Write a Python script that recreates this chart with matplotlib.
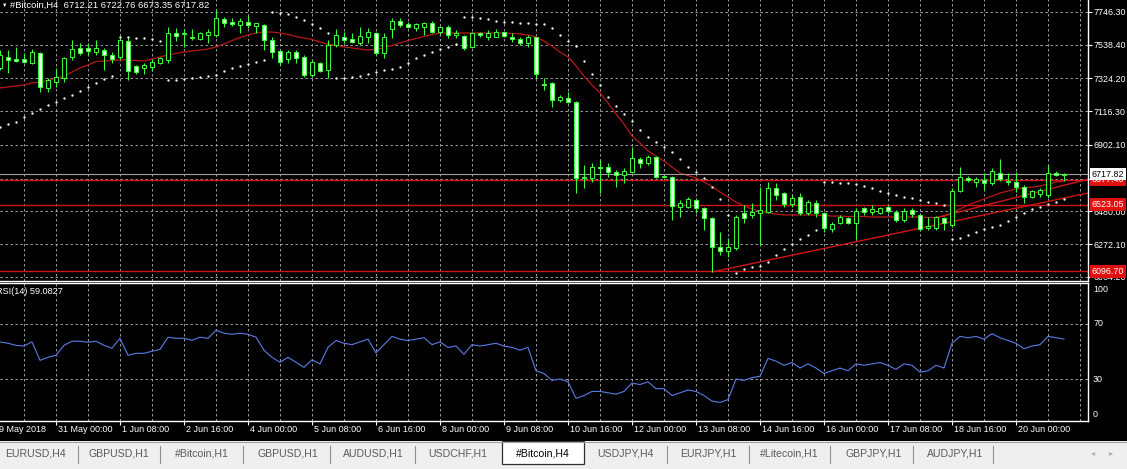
import numpy as np
import matplotlib.pyplot as plt
from matplotlib.patches import Rectangle

# MT4 screenshot: #Bitcoin,H4 with MA, Parabolic SAR, RSI(14)

W, H = 1127, 469

# one entry per H4 bar, first bar at the left edge of the chart
opens = [7391, 7461, 7448, 7448, 7423, 7486, 7264, 7302, 7327, 7461,
         7518, 7518, 7492, 7505, 7473, 7461, 7562, 7403, 7391, 7397,
         7423, 7442, 7613, 7607, 7588, 7575, 7600, 7600, 7702, 7683,
         7664, 7683, 7657, 7664, 7569, 7499, 7448, 7492, 7461, 7346,
         7423, 7378, 7537, 7588, 7575, 7550, 7588, 7613, 7486, 7638,
         7689, 7670, 7645, 7651, 7676, 7619, 7651, 7600, 7594, 7524,
         7613, 7588, 7588, 7619, 7588, 7575, 7550, 7588, 7289, 7296,
         7188, 7200, 7175, 6693, 6693, 6762, 6762, 6731, 6712, 6731,
         6813, 6788, 6826, 6699, 6699, 6509, 6509, 6553, 6502, 6439,
         6255, 6229, 6248, 6471, 6458, 6471, 6477, 6629, 6597, 6528,
         6572, 6471, 6534, 6471, 6369, 6407, 6439, 6407, 6502, 6477,
         6471, 6509, 6477, 6426, 6489, 6458, 6375, 6375, 6439, 6394,
         6610, 6693, 6667, 6680, 6661, 6724, 6673, 6667, 6635, 6572,
         6591, 6585, 6724, 6712.21]
highs = [7505, 7505, 7524, 7486, 7511, 7492, 7327, 7391, 7461, 7569,
         7550, 7550, 7569, 7518, 7492, 7581, 7588, 7410, 7423, 7448,
         7461, 7651, 7645, 7638, 7638, 7619, 7638, 7759, 7715, 7708,
         7708, 7727, 7676, 7670, 7588, 7505, 7505, 7505, 7473, 7442,
         7429, 7569, 7638, 7619, 7613, 7651, 7645, 7619, 7613, 7708,
         7708, 7683, 7676, 7683, 7689, 7657, 7664, 7632, 7600, 7619,
         7619, 7632, 7638, 7619, 7613, 7588, 7600, 7588, 7327, 7302,
         7219, 7238, 7181, 6775, 6788, 6807, 6788, 6743, 6756, 6889,
         6826, 6839, 6833, 6712, 6705, 6553, 6572, 6566, 6509, 6445,
         6350, 6311, 6458, 6521, 6534, 6635, 6667, 6661, 6604, 6585,
         6597, 6553, 6553, 6477, 6413, 6458, 6445, 6502, 6509, 6521,
         6509, 6521, 6489, 6502, 6502, 6471, 6445, 6451, 6445, 6629,
         6762, 6705, 6699, 6724, 6756, 6813, 6724, 6731, 6648, 6616,
         6629, 6775, 6737, 6722.76]
lows = [7378, 7359, 7429, 7423, 7416, 7238, 7238, 7270, 7302, 7442,
        7473, 7473, 7473, 7378, 7423, 7448, 7315, 7353, 7353, 7372,
        7416, 7423, 7562, 7524, 7569, 7569, 7550, 7588, 7651, 7657,
        7613, 7645, 7613, 7505, 7454, 7410, 7423, 7423, 7334, 7334,
        7365, 7327, 7524, 7550, 7550, 7537, 7550, 7473, 7454, 7581,
        7651, 7645, 7626, 7600, 7613, 7607, 7581, 7581, 7505, 7518,
        7588, 7569, 7588, 7588, 7556, 7537, 7524, 7327, 7251, 7143,
        7175, 7169, 6597, 6629, 6667, 6597, 6699, 6635, 6661, 6724,
        6756, 6775, 6693, 6693, 6426, 6445, 6502, 6471, 6362, 6096,
        6204, 6191, 6236, 6407, 6439, 6267, 6471, 6553, 6509, 6509,
        6458, 6458, 6445, 6350, 6350, 6401, 6401, 6305, 6458, 6458,
        6464, 6471, 6413, 6413, 6445, 6356, 6362, 6362, 6362, 6382,
        6604, 6667, 6635, 6616, 6648, 6673, 6648, 6604, 6534, 6566,
        6572, 6566, 6705, 6673.35]
closes = [7473, 7442, 7435, 7429, 7492, 7270, 7315, 7334, 7454, 7511,
          7486, 7499, 7518, 7473, 7448, 7569, 7372, 7365, 7410, 7429,
          7454, 7613, 7594, 7613, 7581, 7613, 7619, 7708, 7676, 7670,
          7689, 7664, 7676, 7569, 7492, 7429, 7492, 7454, 7346, 7429,
          7372, 7537, 7600, 7569, 7556, 7594, 7619, 7486, 7588, 7689,
          7664, 7651, 7670, 7676, 7619, 7651, 7600, 7613, 7518, 7613,
          7600, 7613, 7619, 7594, 7575, 7550, 7588, 7353, 7283, 7188,
          7207, 7175, 6693, 6699, 6762, 6756, 6731, 6712, 6737, 6820,
          6788, 6826, 6699, 6705, 6515, 6534, 6559, 6502, 6439, 6255,
          6229, 6255, 6445, 6439, 6477, 6489, 6629, 6585, 6528, 6566,
          6471, 6540, 6471, 6375, 6401, 6445, 6407, 6483, 6477, 6496,
          6502, 6483, 6426, 6483, 6464, 6369, 6388, 6445, 6407, 6610,
          6699, 6680, 6686, 6661, 6737, 6686, 6667, 6635, 6572, 6610,
          6616, 6724, 6712, 6717.82]

# moving average (red line), read per bar
ma = [7264, 7270, 7277, 7283, 7296, 7302, 7312, 7327, 7340, 7365,
      7391, 7410, 7432, 7435, 7438, 7442, 7442, 7438, 7435, 7448,
      7461, 7473, 7483, 7492, 7499, 7505, 7511, 7524, 7543, 7565,
      7584, 7600, 7613, 7619, 7619, 7613, 7603, 7591, 7581, 7572,
      7556, 7543, 7534, 7524, 7518, 7511, 7505, 7511, 7518, 7534,
      7550, 7565, 7578, 7591, 7603, 7613, 7613, 7613, 7613, 7613,
      7613, 7613, 7613, 7613, 7610, 7607, 7600, 7588, 7562, 7530,
      7492, 7461, 7404, 7340, 7283, 7232, 7169, 7099, 7035, 6959,
      6915, 6864, 6832, 6800, 6762, 6724, 6708, 6693, 6667, 6639,
      6604, 6572, 6540, 6515, 6496, 6483, 6471, 6464, 6458, 6458,
      6458, 6458, 6458, 6454, 6451, 6451, 6448, 6448, 6448, 6445,
      6445, 6445, 6445, 6445, 6445, 6445, 6442, 6442, 6451, 6471,
      6496, 6521, 6540, 6559, 6578, 6597, 6610, 6623, 6629, 6635,
      6642, 6654, 6667, 6673]

# parabolic SAR dots
sar = [7016, 7035, 7048, 7080, 7105, 7131, 7156, 7175, 7200, 7219,
       7245, 7270, 7296, 7321, 7340, 7588, 7588, 7581, 7581, 7575,
       7562, 7315, 7315, 7321, 7327, 7334, 7340, 7346, 7372, 7391,
       7403, 7416, 7429, 7442, 7746, 7740, 7734, 7715, 7696, 7670,
       7645, 7613, 7327, 7327, 7334, 7340, 7353, 7365, 7378, 7384,
       7397, 7423, 7454, 7473, 7492, 7511, 7524, 7543, 7715, 7715,
       7708, 7702, 7689, 7683, 7683, 7676, 7676, 7670, 7670, 7645,
       7600, 7562, 7530, 7435, 7353, 7283, 7207, 7150, 7099, 7054,
       6997, 6953, 6921, 6889, 6858, 6813, 6762, 6731, 6693, 6635,
       6559, 6458, 6090, 6115, 6128, 6134, 6159, 6204, 6242, 6274,
       6305, 6331, 6362, 6667, 6667, 6661, 6661, 6654, 6642, 6629,
       6610, 6597, 6585, 6572, 6566, 6553, 6540, 6534, 6521, 6305,
       6312, 6331, 6350, 6369, 6382, 6394, 6420, 6445, 6471, 6496,
       6509, 6528, 6540, 6559]

rsi = [57.0, 56.0, 54.5, 54.0, 57.0, 43.6, 45.8, 47.3, 54.5, 57.5,
       57.5, 56.7, 57.5, 54.5, 52.4, 59.6, 47.3, 48.7, 48.7, 50.2,
       51.6, 60.4, 59.6, 59.6, 58.2, 60.4, 59.6, 65.5, 63.3, 62.5,
       63.3, 62.5, 60.4, 50.9, 45.8, 42.2, 45.8, 42.2, 38.5, 44.0,
       41.0, 53.0, 58.0, 56.0, 55.0, 57.0, 59.0, 49.0, 55.0, 61.0,
       59.0, 58.0, 59.0, 60.0, 55.0, 57.0, 53.0, 54.0, 48.0, 55.0,
       54.0, 55.0, 56.0, 54.0, 53.0, 51.0, 53.0, 36.0, 34.0, 29.0,
       30.0, 28.0, 16.0, 18.0, 21.0, 21.0, 20.0, 19.0, 21.0, 27.0,
       26.0, 28.0, 23.0, 23.0, 18.0, 20.0, 22.0, 21.0, 18.0, 14.0,
       13.0, 15.0, 30.0, 29.0, 31.0, 32.0, 45.0, 43.0, 40.0, 42.0,
       38.0, 41.0, 38.0, 34.0, 36.0, 38.0, 36.0, 41.0, 40.0, 41.0,
       42.0, 40.0, 37.0, 41.0, 40.0, 35.0, 36.0, 40.0, 38.0, 56.0,
       61.0, 60.0, 61.0, 59.0, 63.0, 60.0, 58.0, 56.0, 52.0, 54.0,
       55.0, 61.0, 60.0, 59.08]

price_ticks = [7746.30, 7538.40, 7324.20, 7116.30, 6902.10, 6688.20,
               6480.00, 6272.10, 6064.20]
time_labels = ['29 May 2018', '31 May 00:00', '1 Jun 08:00', '2 Jun 16:00',
               '4 Jun 00:00', '5 Jun 08:00', '6 Jun 16:00', '8 Jun 00:00',
               '9 Jun 08:00', '10 Jun 16:00', '12 Jun 00:00', '13 Jun 08:00',
               '14 Jun 16:00', '16 Jun 00:00', '17 Jun 08:00', '18 Jun 16:00',
               '20 Jun 00:00']
levels = [6680.00, 6523.05, 6100.00]
level_labels = ['6677.40', '6523.05', '6096.70']
bid = 6717.82
trend_lo = ([89, 136], [6096, 6597])
trend_hi = ([117, 136], [6440, 6685])
tabs = ['EURUSD,H4', 'GBPUSD,H1', '#Bitcoin,H1', 'GBPUSD,H1', 'AUDUSD,H1',
        'USDCHF,H1', '#Bitcoin,H4', 'USDJPY,H4', 'EURJPY,H1', '#Litecoin,H1',
        'GBPJPY,H1', 'AUDJPY,H1']
active_tab = 6

FONT = 'Liberation Sans'
GRID = '#b4b4b4'
LIME = '#3cff3c'
RED = '#d01414'
XMAX = 136


def frac(x0, y0, x1, y1):
    return [x0 / W, 1 - y1 / H, (x1 - x0) / W, (y1 - y0) / H]


def ftext(x, y, s, **kw):
    fig.text(x / W, 1 - y / H, s, family=FONT, **kw)


fig = plt.figure(figsize=(W / 100, H / 100), dpi=100)
fig.patch.set_facecolor('black')

ax = fig.add_axes(frac(0, -1, 1088, 281))
axr = fig.add_axes(frac(0, 283, 1088, 421))

for a in (ax, axr):
    a.set_facecolor('black')
    for s in a.spines.values():
        s.set_color('white')
        s.set_linewidth(1.0)
    a.spines['left'].set_visible(False)
    for j in range(3, XMAX, 4):
        a.axvline(j, color=GRID, lw=0.6, ls=(0, (3, 3)), zorder=0)
ax.spines['top'].set_visible(False)

# ---- main price panel
for p in price_ticks:
    ax.axhline(p, color=GRID, lw=0.6, ls=(0, (3, 3)), zorder=0)

x = np.arange(len(closes))
o = np.array(opens); c = np.array(closes)
ax.vlines(x, lows, highs, color=LIME, lw=0.8, zorder=3)
bottom = np.minimum(o, c)
height = np.maximum(np.abs(c - o), 4)
fill = np.where(c >= o, 'black', '#e4ffe4')
ax.bar(x, height, bottom=bottom, width=0.62, color=fill, edgecolor=LIME,
       linewidth=0.7, zorder=4)

ax.plot(x, ma, color='#b81818', lw=0.9, zorder=2)
ax.plot(x, sar, ls='none', marker='o', ms=1.7, mew=0, color='#eaffea', zorder=5)

for lv in levels:
    ax.axhline(lv, color=RED, lw=1.0, zorder=2)
ax.plot(*trend_lo, color=RED, lw=1.0, zorder=2)
ax.plot(*trend_hi, color=RED, lw=1.0, zorder=2)
ax.axhline(bid, color='#a0a0a0', lw=0.8, zorder=2)

ax.yaxis.tick_right()
ax.set_yticks(price_ticks)
ax.set_yticklabels(['%.2f' % p if p != 6688.20 else '' for p in price_ticks],
                   family=FONT)
ax.tick_params(axis='y', colors='white', labelsize=6.4, length=3, pad=1)
ax.set_xticks([])
ax.set_xlim(0, XMAX)
ax.set_ylim(6038.7, 7828.8)

ytr = ax.get_yaxis_transform()
for lv, lab in zip(levels, level_labels):
    ax.text(1.0035, lv, lab, transform=ytr, ha='left', va='center',
            color='white', fontsize=6.4, family=FONT, clip_on=False,
            bbox=dict(boxstyle='square,pad=0.2', fc='#e01010', ec='none'))
ax.text(1.0035, bid, '%.2f' % bid, transform=ytr, ha='left', va='center',
        color='black', fontsize=6.4, family=FONT, clip_on=False,
        bbox=dict(boxstyle='square,pad=0.2', fc='white', ec='none'))

ftext(2, 5, '\u25bc', color='white', fontsize=4, va='center')
ftext(10, 5, '#Bitcoin,H4  %.2f %.2f %.2f %.2f' % (opens[-1], highs[-1], lows[-1], closes[-1]),
      color='white', fontsize=6.8, va='center')

# ---- RSI panel
axr.plot(x, rsi, color='#5a7ce6', lw=0.8)
for lv in (70, 30):
    axr.axhline(lv, color=GRID, lw=0.6, ls=(0, (3, 3)), zorder=0)
axr.set_yticks([])
tick_j = [-1 + 8 * k for k in range(len(time_labels))]
axr.set_xticks(tick_j[1:])
axr.set_xticklabels([])
axr.tick_params(axis='x', colors='white', length=3, width=0.8)
axr.set_xlim(0, XMAX)
axr.set_ylim(-0.5, 99.8)
for j, lab in zip(tick_j, time_labels):
    axr.text(j + 0.2, -0.03, lab, transform=axr.get_xaxis_transform(),
             ha='left', va='top', color='white', fontsize=6.5, family=FONT,
             clip_on=False)
for v, yy in ((100, 289), (70, 324), (30, 379), (0, 414)):
    ftext(1093, yy, str(v), color='white', fontsize=6.4, va='center')
ftext(-4, 291, 'RSI(14) 59.0827', color='white', fontsize=6.6, va='center')

# ---- tab bar
axt = fig.add_axes(frac(0, 441, W, H))
axt.set_xlim(0, W)
axt.set_ylim(H - 441, 0)
axt.axis('off')
axt.add_patch(Rectangle((0, 0), W, 28, fc='#efefef', ec='none'))
axt.axhline(0.5, color='#a0a0a0', lw=0.8)
tab_x = [35, 119, 202, 288, 373, 458, 543, 625, 708, 789, 874, 955]
seps = [78, 160, 243, 330, 415, 667, 749, 830, 913, 993]
for s in seps:
    axt.plot([s, s], [5, 22], color='#909090', lw=0.8)
axt.add_patch(Rectangle((502, 0), 82, 23, fc='white', ec='#303030', lw=0.9))
for i, (tx, lab) in enumerate(zip(tab_x, tabs)):
    axt.text(tx, 12, lab, ha='center', va='center', fontsize=7.6,
             family=FONT, color='black' if i == active_tab else '#5a5a5a')
axt.text(1093, 12, '\u25c2', ha='center', va='center', fontsize=6, color='#b0b0b0')
axt.text(1111, 12, '\u25b8', ha='center', va='center', fontsize=6, color='#b0b0b0')

fig.savefig('out.png', dpi=100, facecolor='black')
